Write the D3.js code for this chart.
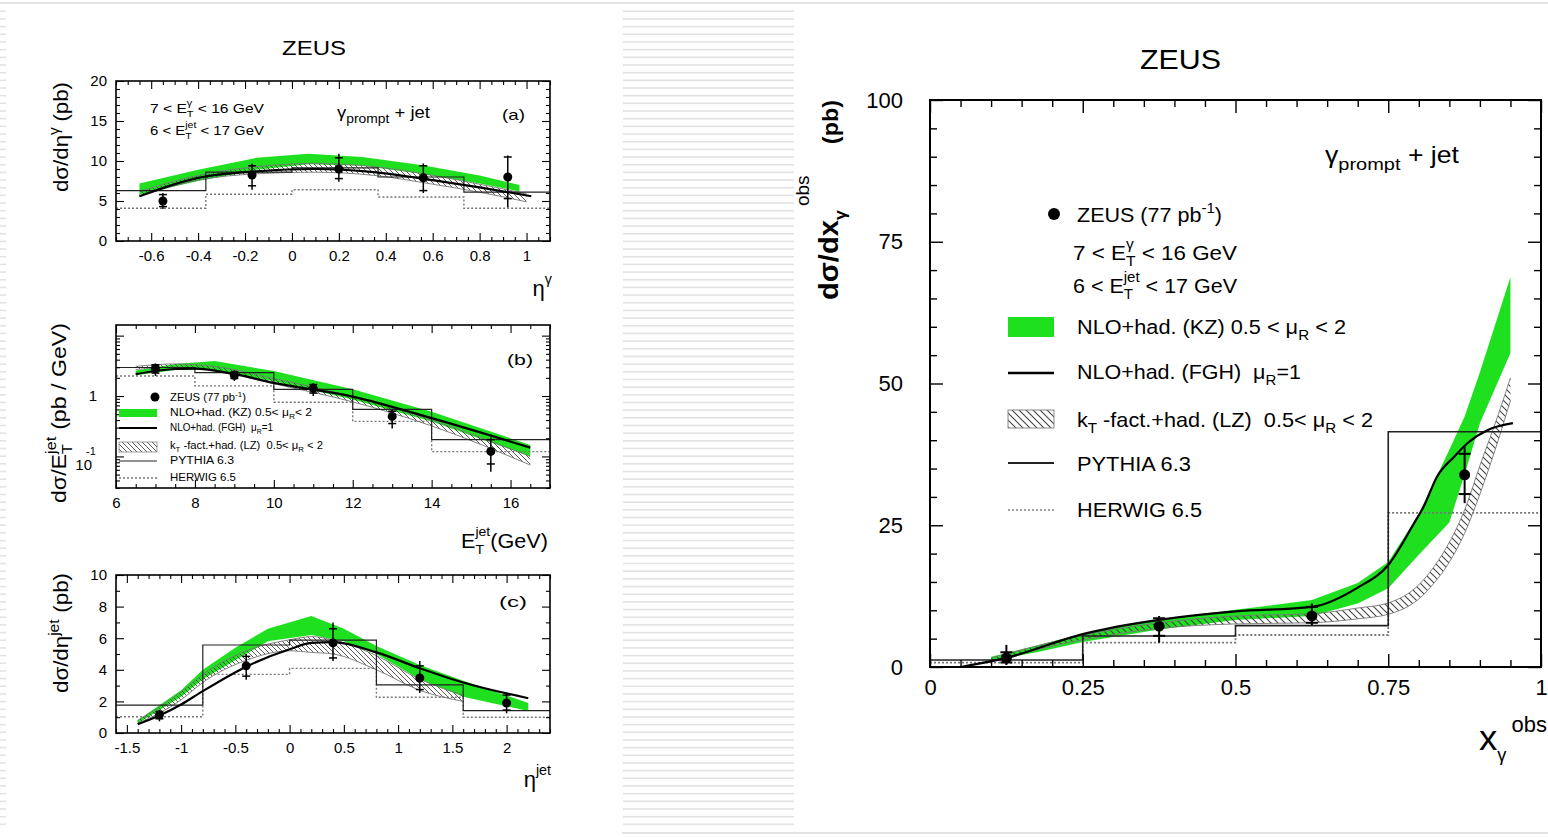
<!DOCTYPE html>
<html>
<head>
<meta charset="utf-8">
<script src="https://cdn.jsdelivr.net/npm/d3@7"></script>
<style>
  body { margin: 0; background: #fff; }
  svg { display: block; font-family: "Liberation Sans", Arial, Helvetica, sans-serif; }
</style>
</head>
<body>
<svg id="chart" width="1548" height="837"></svg>
<script>
// ---------- panel (a): dsigma/deta^gamma ----------
var aPts    = [-0.55, -0.17, 0.2, 0.56, 0.92];
var aVal    = [5.0, 8.25, 9.0, 7.9, 8.0];
var aErrLo  = [4.0, 6.4, 7.4, 6.0, 4.2];
var aErrHi  = [6.0, 9.7, 10.9, 9.7, 10.7];
var aStatLo = [4.3, 6.9, 7.8, 6.3, 5.3];
var aStatHi = [5.8, 9.4, 10.4, 9.4, 10.5];
var aBins   = [-0.75, -0.367, 0, 0.367, 0.733, 1.1];
var aPythia = [6.3, 8.6, 9.15, 8.0, 6.1];
var aHerwig = [4.1, 5.85, 6.4, 5.5, 4.1];
var aKzX    = [-0.65, -0.4, -0.15, 0.07, 0.3, 0.55, 0.8, 0.97];
var aKzUp   = [7.2, 8.9, 10.4, 10.9, 10.5, 9.5, 8.2, 7.0];
var aKzLo   = [5.8, 7.5, 8.9, 9.6, 9.4, 8.4, 7.2, 6.2];
var aLzX    = [-0.65, -0.4, -0.15, 0.1, 0.35, 0.6, 0.8, 1.0];
var aLzUp   = [6.2, 8.2, 9.3, 9.7, 9.3, 8.2, 7.1, 5.9];
var aLzLo   = [5.6, 7.6, 8.4, 8.6, 8.2, 7.1, 6.1, 4.9];
var aFghX   = [-0.65, -0.4, -0.15, 0.1, 0.35, 0.6, 0.8, 1.02];
var aFghY   = [5.6, 7.9, 8.7, 9.0, 8.6, 7.6, 6.7, 5.6];
var aTicksX = [-0.6, -0.4, -0.2, 0, 0.2, 0.4, 0.6, 0.8, 1];
var aTicksY = [0, 5, 10, 15, 20];

// ---------- panel (b): dsigma/dE_T^jet (log) ----------
var bPts    = [7, 9, 11, 13, 15.5];
var bVal    = [2.86, 2.21, 1.34, 0.46, 0.121];
var bErrLo  = [2.15, 1.78, 1.0, 0.29, 0.056];
var bErrHi  = [3.47, 2.68, 1.63, 0.60, 0.207];
var bStatLo = [2.4, 1.95, 1.12, 0.35, 0.075];
var bStatHi = [3.3, 2.5, 1.55, 0.56, 0.19];
var bBins   = [6, 8, 10, 12, 14, 17];
var bPythia = [2.97, 2.45, 1.29, 0.60, 0.19];
var bHerwig = [2.15, 1.47, 0.79, 0.38, 0.12];
var bKzX    = [6.5, 7.5, 8.5, 10, 12, 14, 16.5];
var bKzUp   = [2.65, 3.4, 3.8, 2.6, 1.3, 0.55, 0.155];
var bKzLo   = [2.2, 2.7, 2.7, 1.75, 0.88, 0.38, 0.10];
var bLzX    = [6.5, 7.5, 8.5, 10, 12, 14, 16.5];
var bLzUp   = [3.1, 3.4, 3.1, 1.95, 0.98, 0.40, 0.10];
var bLzLo   = [2.75, 3.0, 2.7, 1.6, 0.80, 0.32, 0.072];
var bFghX   = [6.5, 7.0, 7.5, 8, 9, 10, 12, 14, 16.5];
var bFghY   = [2.3, 2.6, 2.8, 2.85, 2.3, 1.65, 0.98, 0.43, 0.14];
var bTicksX = [6, 8, 10, 12, 14, 16];
var bTicksY = [0.1, 1, 10];

// ---------- panel (c): dsigma/deta^jet ----------
var cPts    = [-1.2, -0.4, 0.4, 1.2, 2.0];
var cVal    = [1.15, 4.25, 5.7, 3.48, 1.9];
var cErrLo  = [0.74, 3.37, 4.55, 2.53, 1.25];
var cErrHi  = [1.44, 5.0, 7.0, 4.55, 2.53];
var cStatLo = [0.9, 3.6, 4.75, 2.75, 1.45];
var cStatHi = [1.35, 4.85, 6.6, 4.25, 2.4];
var cBins   = [-1.6, -0.8, 0, 0.8, 1.6, 2.4];
var cPythia = [1.77, 5.57, 5.88, 3.04, 1.41];
var cHerwig = [1.03, 3.71, 4.09, 2.26, 1.0];
var cKzX    = [-1.4, -1.0, -0.8, -0.5, -0.2, 0.2, 0.5, 0.8, 1.2, 1.6, 2.2];
var cKzUp   = [0.8, 2.7, 4.0, 5.4, 6.6, 7.4, 6.6, 5.5, 4.3, 3.3, 1.9];
var cKzLo   = [0.6, 2.3, 3.4, 4.6, 5.8, 6.2, 5.8, 5.0, 3.4, 2.3, 1.4];
var cLzX    = [-1.4, -1.0, -0.8, -0.4, 0, 0.2, 0.4, 0.8, 1.2, 1.6];
var cLzUp   = [0.8, 2.6, 3.7, 5.2, 5.9, 6.1, 5.9, 4.9, 3.4, 2.4];
var cLzLo   = [0.6, 2.1, 3.2, 4.6, 5.2, 5.1, 5.0, 4.0, 2.7, 2.0];
var cFghX   = [-1.4, -1.2, -1.0, -0.8, -0.4, 0, 0.2, 0.4, 0.8, 1.2, 1.6, 2.2];
var cFghY   = [0.55, 1.1, 1.8, 2.65, 4.2, 5.3, 5.7, 5.75, 5.1, 4.1, 3.2, 2.2];
var cTicksX = [-1.5, -1, -0.5, 0, 0.5, 1, 1.5, 2];
var cTicksY = [0, 2, 4, 6, 8, 10];

// ---------- right panel: dsigma/dx_gamma^obs ----------
var rPts    = [0.125, 0.375, 0.625, 0.875];
var rVal    = [1.6, 7.2, 9.0, 33.9];
var rErrLo  = [0.35, 4.3, 7.4, 28.9];
var rErrHi  = [3.9, 9.0, 11.2, 38.9];
var rStatLo = [0.8, 5.5, 7.8, 30.5];
var rStatHi = [2.6, 8.6, 10.6, 37.6];
var rBins   = [0, 0.25, 0.5, 0.75, 1];
var rPythia = [1.23, 5.47, 7.3, 41.5];
var rHerwig = [0.76, 4.3, 5.64, 27.2];
var rKzX    = [0.1, 0.175, 0.25, 0.375, 0.5, 0.625, 0.7, 0.75, 0.8, 0.85, 0.875, 0.9, 0.95];
var rKzUp   = [1.8, 3.8, 5.9, 8.4, 10.1, 11.8, 14.8, 18.5, 27.0, 38.3, 44.2, 52.0, 68.8];
var rKzLo   = [1.2, 2.6, 4.4, 6.6, 8.3, 9.0, 11.2, 13.9, 19.8, 25.5, 34.0, 43.0, 55.4];
var rLzX    = [0.1, 0.25, 0.375, 0.5, 0.625, 0.7, 0.75, 0.8, 0.825, 0.85, 0.875, 0.9, 0.93, 0.95];
var rLzUp   = [1.6, 5.6, 7.8, 9.0, 9.4, 10.4, 11.3, 14.5, 17.7, 22.0, 27.7, 35.5, 44.5, 51.0];
var rLzLo   = [1.0, 4.8, 6.8, 7.6, 7.8, 8.5, 9.3, 12.0, 14.8, 18.5, 23.6, 30.5, 40.0, 47.0];
var rFghX   = [0.05, 0.125, 0.25, 0.375, 0.5, 0.625, 0.7, 0.75, 0.792, 0.808, 0.83, 0.858, 0.88, 0.913, 0.954];
var rFghY   = [0, 1.6, 5.8, 8.3, 9.8, 10.6, 14.0, 18.0, 25.3, 28.3, 33.6, 37.1, 39.5, 41.8, 43.0];
var rTicksX = [0, 0.25, 0.5, 0.75, 1];
var rTicksY = [0, 25, 50, 75, 100];

var GREEN = "#1fe01f";
var FONT = "'Liberation Sans', Arial, Helvetica, sans-serif";

var svg = d3.select("#chart");
var defs = svg.append("defs");

// page decoration (grey rules / stripes of the slide)
var deco = svg.append("g").attr("fill", "#e3e3e3");
deco.append("rect").attr("x", 0).attr("y", 2).attr("width", 1548).attr("height", 2);
deco.append("rect").attr("x", 622).attr("y", 832).attr("width", 926).attr("height", 2);
d3.range(10.5, 831, 7.67).forEach(function (yy) {
  deco.append("rect").attr("x", 0).attr("y", yy).attr("width", 6).attr("height", 1.6);
  deco.append("rect").attr("x", 623).attr("y", yy).attr("width", 171).attr("height", 1.6);
});

function hatch(id, s, color, sw) {
  var p = defs.append("pattern").attr("id", id)
    .attr("patternUnits", "userSpaceOnUse").attr("width", s).attr("height", s);
  p.append("path")
    .attr("d", "M0,0L" + s + "," + s + "M-1," + (s - 1) + "L1," + (s + 1) + "M" + (s - 1) + ",-1L" + (s + 1) + ",1")
    .attr("stroke", color).attr("stroke-width", sw).attr("fill", "none");
}
hatch("hatchS", 5, "#333", 0.8);
hatch("hatchL", 7, "#444", 1.1);

// text made of runs (sub/superscripts), optional stretch to a given width
function richText(parent, parts, o) {
  var g = parent.append("g");
  var inner = g.append("g");
  var cx = 0, held = 0;
  parts.forEach(function (p) {
    if (typeof p === "string") p = { t: p };
    cx += (p.gap || 0);
    var t = inner.append("text")
      .attr("x", cx).attr("y", (p.y || 0) * o.size)
      .attr("font-size", o.size * (p.s || 1))
      .attr("font-weight", p.w || o.weight || null)
      .attr("fill", o.fill || "#000")
      .attr("xml:space", "preserve")
      .style("white-space", "pre")
      .text(p.t);
    var w = t.node().getComputedTextLength();
    if (p.stack) { held = Math.max(held, w); }
    else { cx += Math.max(w, held); held = 0; }
  });
  var total = cx;
  var sx = o.width ? o.width / total : 1;
  var shift = o.anchor === "end" ? -total : (o.anchor === "middle" ? -total / 2 : 0);
  inner.attr("transform", "scale(" + sx + ",1) translate(" + shift + ",0)");
  g.attr("transform", "translate(" + o.x + "," + o.y + ")" + (o.rotate ? " rotate(" + o.rotate + ")" : ""));
  return g;
}

function minorTicks(dom, step, majors) {
  var out = [];
  var start = Math.ceil(dom[0] / step - 1e-9);
  for (var i = start; i * step <= dom[1] + 1e-9; i++) {
    var v = Math.round(i * step * 1e4) / 1e4;
    if (!majors.some(function (m) { return Math.abs(m - v) < 1e-6; })) out.push(v);
  }
  return out;
}

function drawPanel(c) {
  var w = c.box.r - c.box.l, h = c.box.b - c.box.t;
  var g = svg.append("g").attr("transform", "translate(" + c.box.l + "," + c.box.t + ")");
  var x = d3.scaleLinear().domain(c.xDom).range([0, w]);
  var y = (c.log ? d3.scaleLog() : d3.scaleLinear()).domain(c.yDom).range([h, 0]);

  defs.append("clipPath").attr("id", "clip" + c.id)
    .append("rect").attr("width", w).attr("height", h);
  var plot = g.append("g").attr("clip-path", "url(#clip" + c.id + ")");

  // NLO KZ band
  var kz = c.kzX.map(function (v, i) { return [v, c.kzLo[i], c.kzUp[i]]; });
  plot.append("path").datum(kz).attr("fill", GREEN)
    .attr("d", d3.area().x(function (d) { return x(d[0]); })
      .y0(function (d) { return y(d[1]); }).y1(function (d) { return y(d[2]); }));

  // kT-fact LZ band (hatched)
  var lz = c.lzX.map(function (v, i) { return [v, c.lzLo[i], c.lzUp[i]]; });
  plot.append("path").datum(lz).attr("fill", "url(#" + c.hatch + ")")
    .attr("d", d3.area().curve(d3.curveMonotoneX).x(function (d) { return x(d[0]); })
      .y0(function (d) { return y(d[1]); }).y1(function (d) { return y(d[2]); }));
  [1, 2].forEach(function (k) {
    plot.append("path").datum(lz).attr("fill", "none").attr("stroke", "#777").attr("stroke-width", 0.9)
      .attr("d", d3.line().curve(d3.curveMonotoneX).x(function (d) { return x(d[0]); })
        .y(function (d) { return y(d[k]); }));
  });

  // MC histograms
  function histo(vals) {
    var pts = vals.map(function (v, i) { return [c.bins[i], v]; });
    pts.push([c.bins[c.bins.length - 1], vals[vals.length - 1]]);
    return d3.line().curve(d3.curveStepAfter)
      .x(function (d) { return x(d[0]); }).y(function (d) { return y(d[1]); })(pts);
  }
  plot.append("path").attr("d", histo(c.herwig)).attr("fill", "none")
    .attr("stroke", "#777").attr("stroke-width", c.pyW + 0.2).attr("stroke-dasharray", "2,2");
  plot.append("path").attr("d", histo(c.pythia)).attr("fill", "none")
    .attr("stroke", "#222").attr("stroke-width", c.pyW);

  // NLO FGH line
  plot.append("path").datum(c.fghX.map(function (v, i) { return [v, c.fghY[i]]; }))
    .attr("fill", "none").attr("stroke", "#000").attr("stroke-width", c.fghW)
    .attr("d", d3.line().curve(d3.curveMonotoneX)
      .x(function (d) { return x(d[0]); }).y(function (d) { return y(d[1]); }));

  // axes: ticks inward on four sides
  var fmt = function (d) { return String(d); };
  var xMin = minorTicks(c.xDom, c.xStep, c.xTicks);
  var yMin = c.log ? c.yMinor : minorTicks(c.yDom, c.yStep, c.yTicks);
  var ax = g.append("g");
  ax.append("g").attr("transform", "translate(0," + h + ")")
    .call(d3.axisBottom(x).tickValues(c.xTicks).tickSize(-c.tl[0]).tickPadding(c.padX).tickFormat(fmt));
  ax.append("g").attr("transform", "translate(0," + h + ")")
    .call(d3.axisBottom(x).tickValues(xMin).tickSize(-c.tl[1]).tickFormat(""));
  ax.append("g").call(d3.axisTop(x).tickValues(c.xTicks).tickSize(-c.tl[0]).tickFormat(""));
  ax.append("g").call(d3.axisTop(x).tickValues(xMin).tickSize(-c.tl[1]).tickFormat(""));
  ax.append("g")
    .call(d3.axisLeft(y).tickValues(c.yTicks).tickSize(-c.tl[0]).tickPadding(c.padY).tickFormat(c.log ? "" : fmt));
  ax.append("g").call(d3.axisLeft(y).tickValues(yMin).tickSize(-c.tl[1]).tickFormat(""));
  ax.append("g").attr("transform", "translate(" + w + ",0)")
    .call(d3.axisRight(y).tickValues(c.yTicks).tickSize(-c.tl[0]).tickFormat(""));
  ax.append("g").attr("transform", "translate(" + w + ",0)")
    .call(d3.axisRight(y).tickValues(yMin).tickSize(-c.tl[1]).tickFormat(""));
  ax.selectAll(".domain").remove();
  ax.selectAll("g").attr("font-family", FONT);
  ax.selectAll("text").attr("font-size", c.fs).attr("fill", "#000");
  ax.selectAll("line").attr("stroke", "#000").attr("stroke-width", c.tw);
  g.append("rect").attr("width", w).attr("height", h)
    .attr("fill", "none").attr("stroke", "#000").attr("stroke-width", c.fw);

  // data points with errors
  var pd = c.pts.map(function (v, i) {
    return { x: v, v: c.val[i], lo: c.lo[i], hi: c.hi[i], slo: c.slo[i], shi: c.shi[i] };
  });
  var pg = g.append("g").attr("stroke", "#000").attr("stroke-width", c.ew);
  pg.selectAll(".eb").data(pd).join("line").attr("class", "eb")
    .attr("x1", function (d) { return x(d.x); }).attr("x2", function (d) { return x(d.x); })
    .attr("y1", function (d) { return y(d.lo); }).attr("y2", function (d) { return y(d.hi); });
  pg.selectAll(".st").data(pd.flatMap(function (d) { return [[d.x, d.slo], [d.x, d.shi]]; }))
    .join("line").attr("class", "st")
    .attr("x1", function (d) { return x(d[0]) - c.hw; }).attr("x2", function (d) { return x(d[0]) + c.hw; })
    .attr("y1", function (d) { return y(d[1]); }).attr("y2", function (d) { return y(d[1]); });
  g.append("g").selectAll("circle").data(pd).join("circle")
    .attr("cx", function (d) { return x(d.x); }).attr("cy", function (d) { return y(d.v); })
    .attr("r", c.r).attr("fill", "#000");

  return { g: g, x: x, y: y, w: w, h: h };
}

var small = { tl: [8, 4], fs: 15, padX: 9, padY: 9, hatch: "hatchS", r: 4.5, hw: 4,
  fghW: 2.2, pyW: 1.2, tw: 1.1, fw: 1.6, ew: 1.5 };

function cfg(base, extra) { return Object.assign({}, base, extra); }

var pa = drawPanel(cfg(small, {
  id: "a", box: { l: 116, r: 550, t: 81, b: 241 }, xDom: [-0.75, 1.1], yDom: [0, 20],
  xTicks: aTicksX, yTicks: aTicksY, xStep: 0.05, yStep: 1,
  pts: aPts, val: aVal, lo: aErrLo, hi: aErrHi, slo: aStatLo, shi: aStatHi,
  bins: aBins, pythia: aPythia, herwig: aHerwig,
  kzX: aKzX, kzUp: aKzUp, kzLo: aKzLo, lzX: aLzX, lzUp: aLzUp, lzLo: aLzLo, fghX: aFghX, fghY: aFghY
}));

var bMinor = [];
[-2, -1, 0, 1].forEach(function (k) {
  d3.range(2, 10).forEach(function (m) {
    var v = m * Math.pow(10, k);
    if (v >= 0.03 && v <= 15) bMinor.push(v);
  });
});
var pb = drawPanel(cfg(small, {
  id: "b", box: { l: 116, r: 550, t: 325, b: 488 }, xDom: [6, 17], yDom: [0.03, 15], log: true,
  xTicks: bTicksX, yTicks: bTicksY, xStep: 0.5, yMinor: bMinor,
  pts: bPts, val: bVal, lo: bErrLo, hi: bErrHi, slo: bStatLo, shi: bStatHi,
  bins: bBins, pythia: bPythia, herwig: bHerwig,
  kzX: bKzX, kzUp: bKzUp, kzLo: bKzLo, lzX: bLzX, lzUp: bLzUp, lzLo: bLzLo, fghX: bFghX, fghY: bFghY
}));

var pc = drawPanel(cfg(small, {
  id: "c", box: { l: 116, r: 550, t: 575, b: 733 }, xDom: [-1.6, 2.4], yDom: [0, 10],
  xTicks: cTicksX, yTicks: cTicksY, xStep: 0.1, yStep: 1,
  pts: cPts, val: cVal, lo: cErrLo, hi: cErrHi, slo: cStatLo, shi: cStatHi,
  bins: cBins, pythia: cPythia, herwig: cHerwig,
  kzX: cKzX, kzUp: cKzUp, kzLo: cKzLo, lzX: cLzX, lzUp: cLzUp, lzLo: cLzLo, fghX: cFghX, fghY: cFghY
}));

var pr = drawPanel({
  id: "r", box: { l: 930, r: 1541, t: 100, b: 667 }, xDom: [0, 1], yDom: [0, 100],
  xTicks: rTicksX, yTicks: rTicksY, xStep: 0.05, yStep: 5,
  tl: [13, 7], fs: 22, padX: 12, padY: 27, hatch: "hatchL", r: 5.5, hw: 6,
  fghW: 2.2, pyW: 1.6, tw: 1.4, fw: 2, ew: 2,
  pts: rPts, val: rVal, lo: rErrLo, hi: rErrHi, slo: rStatLo, shi: rStatHi,
  bins: rBins, pythia: rPythia, herwig: rHerwig,
  kzX: rKzX, kzUp: rKzUp, kzLo: rKzLo, lzX: rLzX, lzUp: rLzUp, lzLo: rLzLo, fghX: rFghX, fghY: rFghY
});

// log-axis labels of panel (b)
pb.g.append("text").attr("x", -19).attr("y", pb.y(1) + 5).attr("text-anchor", "end")
  .attr("font-size", 15).text("1");
pb.g.append("text").attr("x", -24).attr("y", pb.y(0.1) + 14).attr("text-anchor", "end")
  .attr("font-size", 15).text("10");
pb.g.append("text").attr("x", -30).attr("y", pb.y(0.1) - 1).attr("font-size", 11).text("-1");

// ---------- titles and labels ----------
richText(svg, ["ZEUS"], { x: 282, y: 55, size: 21, width: 64 });
richText(svg, ["ZEUS"], { x: 1140, y: 69, size: 28, width: 81 });

// axis titles, left column
richText(svg, ["dσ/dη", { t: "γ", y: -0.45, s: 0.7 }, { t: "(pb)", gap: 5 }],
  { x: 68, y: 82, size: 20, rotate: -90, anchor: "end", width: 110 });
richText(svg, ["dσ/E", { t: "T", y: 0.3, s: 0.7, stack: true }, { t: "jet", y: -0.5, s: 0.7 },
  { t: "(pb / GeV)", gap: 6 }],
  { x: 66, y: 323, size: 20, rotate: -90, anchor: "end", width: 180 });
richText(svg, ["dσ/dη", { t: "jet", y: -0.45, s: 0.7 }, { t: "(pb)", gap: 6 }],
  { x: 68, y: 573, size: 20, rotate: -90, anchor: "end", width: 120 });

richText(svg, ["η", { t: "γ", y: -0.55, s: 0.65 }], { x: 552, y: 296, size: 22, anchor: "end" });
richText(svg, ["E", { t: "T", y: 0.3, s: 0.65, stack: true }, { t: "jet", y: -0.55, s: 0.65 }, "(GeV)"],
  { x: 548, y: 548, size: 21, anchor: "end", width: 87 });
richText(svg, ["η", { t: "jet", y: -0.55, s: 0.65 }], { x: 551, y: 787, size: 22, anchor: "end" });

// panel (a) annotations
richText(svg, ["7 < E", { t: "T", y: 0.3, s: 0.7, stack: true }, { t: "γ", y: -0.55, s: 0.7 }, " < 16 GeV"],
  { x: 150, y: 113, size: 13, width: 114 });
richText(svg, ["6 < E", { t: "T", y: 0.3, s: 0.7, stack: true }, { t: "jet", y: -0.55, s: 0.7 }, " < 17 GeV"],
  { x: 150, y: 135, size: 13, width: 114 });
richText(svg, ["γ", { t: "prompt", y: 0.3, s: 0.75 }, " + jet"], { x: 337, y: 118, size: 16, width: 93 });
richText(svg, ["(a)"], { x: 502, y: 120, size: 15, width: 23 });
richText(svg, ["(b)"], { x: 507, y: 365, size: 15, width: 26 });
richText(svg, ["(c)"], { x: 499, y: 607, size: 15, width: 28 });

// panel (b) legend
var lb = svg.append("g");
lb.append("circle").attr("cx", 155).attr("cy", 397).attr("r", 4.5).attr("fill", "#000");
lb.append("rect").attr("x", 119).attr("y", 409).attr("width", 38).attr("height", 8).attr("fill", GREEN);
lb.append("line").attr("x1", 119).attr("x2", 157).attr("y1", 428).attr("y2", 428).attr("stroke", "#000").attr("stroke-width", 2.2);
lb.append("rect").attr("x", 119).attr("y", 442).attr("width", 38).attr("height", 10)
  .attr("fill", "url(#hatchS)").attr("stroke", "#888").attr("stroke-width", 0.8);
lb.append("line").attr("x1", 119).attr("x2", 157).attr("y1", 461).attr("y2", 461).attr("stroke", "#222").attr("stroke-width", 1.2);
lb.append("line").attr("x1", 119).attr("x2", 157).attr("y1", 478).attr("y2", 478).attr("stroke", "#777")
  .attr("stroke-width", 1.4).attr("stroke-dasharray", "2,2");
richText(lb, ["ZEUS (77 pb", { t: "-1", y: -0.45, s: 0.7 }, ")"], { x: 170, y: 401, size: 10, width: 76 });
richText(lb, ["NLO+had. (KZ) 0.5< μ", { t: "R", y: 0.3, s: 0.7 }, "< 2"], { x: 170, y: 416, size: 10, width: 142 });
richText(lb, ["NLO+had. (FGH)  μ", { t: "R", y: 0.3, s: 0.7 }, "=1"], { x: 170, y: 431, size: 10, width: 103 });
richText(lb, ["k", { t: "T", y: 0.3, s: 0.7 }, " -fact.+had. (LZ)  0.5< μ", { t: "R", y: 0.3, s: 0.7 }, " < 2"],
  { x: 170, y: 449, size: 10, width: 153 });
richText(lb, ["PYTHIA 6.3"], { x: 170, y: 464, size: 10, width: 64 });
richText(lb, ["HERWIG 6.5"], { x: 170, y: 481, size: 10, width: 66 });

// right panel titles
richText(svg, [{ t: "dσ/dx", w: "bold" }, { t: "γ", y: 0.3, s: 0.6, w: "bold" },
  { t: "obs", y: -1.05, s: 0.65, gap: 4 }, { t: "(pb)", gap: 30, w: "bold", s: 0.8 }],
  { x: 838, y: 100, size: 28, rotate: -90, anchor: "end", width: 200 });
richText(svg, ["x", { t: "γ", y: 0.3, s: 0.5, gap: 0 }, { t: "obs", y: -0.5, s: 0.6, gap: 5 }],
  { x: 1479, y: 750, size: 36, width: 68 });
richText(svg, ["γ", { t: "prompt", y: 0.3, s: 0.75 }, " + jet"], { x: 1325, y: 163, size: 23, width: 134 });

// right panel legend
var lr = svg.append("g");
lr.append("circle").attr("cx", 1054).attr("cy", 214).attr("r", 6).attr("fill", "#000");
lr.append("rect").attr("x", 1008).attr("y", 317).attr("width", 46).attr("height", 20).attr("fill", GREEN);
lr.append("line").attr("x1", 1008).attr("x2", 1054).attr("y1", 373).attr("y2", 373).attr("stroke", "#000").attr("stroke-width", 2.5);
lr.append("rect").attr("x", 1008).attr("y", 410).attr("width", 46).attr("height", 18)
  .attr("fill", "url(#hatchL)").attr("stroke", "#888").attr("stroke-width", 1);
lr.append("line").attr("x1", 1008).attr("x2", 1054).attr("y1", 463).attr("y2", 463).attr("stroke", "#222").attr("stroke-width", 1.8);
lr.append("line").attr("x1", 1008).attr("x2", 1054).attr("y1", 510).attr("y2", 510).attr("stroke", "#888")
  .attr("stroke-width", 1.6).attr("stroke-dasharray", "2,2");
richText(lr, ["ZEUS (77 pb", { t: "-1", y: -0.45, s: 0.7 }, ")"], { x: 1077, y: 222, size: 20, width: 145 });
richText(lr, ["7 < E", { t: "T", y: 0.3, s: 0.7, stack: true }, { t: "γ", y: -0.55, s: 0.7 }, " < 16 GeV"],
  { x: 1073, y: 260, size: 20, width: 164 });
richText(lr, ["6 < E", { t: "T", y: 0.3, s: 0.7, stack: true }, { t: "jet", y: -0.55, s: 0.7 }, " < 17 GeV"],
  { x: 1073, y: 293, size: 20, width: 164 });
richText(lr, ["NLO+had. (KZ) 0.5 < μ", { t: "R", y: 0.3, s: 0.7 }, " < 2"], { x: 1077, y: 334, size: 20, width: 269 });
richText(lr, ["NLO+had. (FGH)  μ", { t: "R", y: 0.3, s: 0.7 }, "=1"], { x: 1077, y: 379, size: 20, width: 224 });
richText(lr, ["k", { t: "T", y: 0.3, s: 0.7 }, " -fact.+had. (LZ)  0.5< μ", { t: "R", y: 0.3, s: 0.7 }, " < 2"],
  { x: 1077, y: 427, size: 20, width: 296 });
richText(lr, ["PYTHIA 6.3"], { x: 1077, y: 471, size: 20, width: 114 });
richText(lr, ["HERWIG 6.5"], { x: 1077, y: 517, size: 20, width: 125 });
</script>
</body>
</html>
